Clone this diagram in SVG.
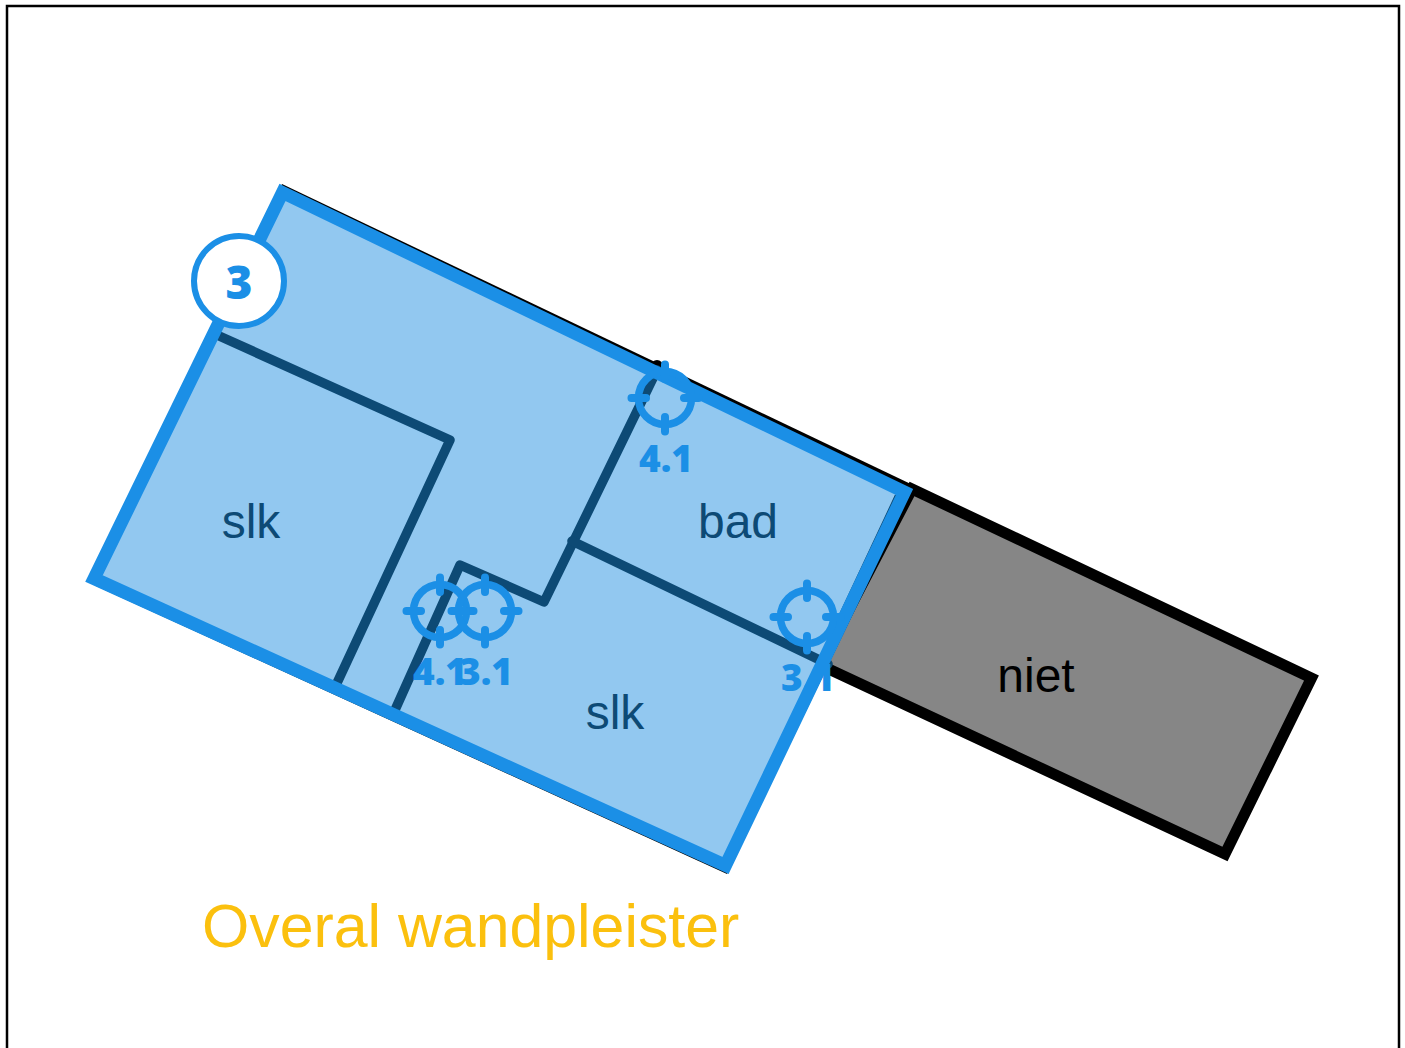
<svg xmlns="http://www.w3.org/2000/svg" width="1405" height="1048" viewBox="0 0 1405 1048">
<style>
.lbl{font-family:"Liberation Sans",Arial,sans-serif;font-size:48px;text-anchor:middle}
.wall{fill:none;stroke:#0d4a75;stroke-width:9.5;stroke-linecap:round;stroke-linejoin:round}
.tag{font-family:"Open Sans",sans-serif;font-weight:800;font-size:37px;fill:#1b8fe6;text-anchor:middle}
.tick{stroke:#1b8fe6;stroke-width:8;stroke-linecap:round}
.ring{fill:none;stroke:#1b8fe6;stroke-width:7.5}
</style>
<defs>
<g id="target">
<circle class="ring" r="26.5"/>
<path class="tick" d="M0-33.5V-19M0 33.5V19M-33.5 0H-19M33.5 0H19"/>
</g>
</defs>
<rect id="frame" x="7" y="6" width="1392" height="1100" fill="#fff" stroke="#000" stroke-width="2.5"/>
<g id="room-niet">
<polygon points="912,489 1311.5,678 1225,854 820,665" fill="#868686" stroke="#000" stroke-width="11" stroke-linejoin="miter"/>
<text class="lbl" x="1036" y="692" fill="#000">niet</text>
</g>
<g id="outline-black">
<polygon points="282,184 915,486 727,874 95,585.5" fill="#000"/>
<circle cx="657" cy="366" r="6" fill="#000"/>
</g>
<g id="zone">
<polygon points="282.5,192.5 904.5,492 725.5,865.5 94,578.5" fill="#92c8f0"/>
</g>
<g id="walls" class="connectors">
<path class="wall" d="M217,335 L450,440 L337,683"/>
<path class="wall" d="M395,710 L460,565 L544,602 L657,370"/>
<path class="wall" d="M572,541 L828,664"/>
<path class="wall" style="stroke-width:3" d="M896,496 L838,620"/>
</g>
<g id="zone-border">
<polygon points="282.5,192.5 904.5,492 725.5,865.5 94,578.5" fill="none" stroke="#1b8fe6" stroke-width="13"/>
</g>
<g id="labels">
<text class="lbl" x="251" y="538" fill="#0d4a75">slk</text>
<text class="lbl" x="738" y="538" fill="#0d4a75">bad</text>
<text class="lbl" x="615" y="729" fill="#0d4a75">slk</text>
</g>
<g id="point-4-1-a"><use href="#target" x="665" y="398"/><text class="tag" x="666" y="472">4.1</text></g>
<g id="point-4-1-b"><use href="#target" x="440" y="611"/><text class="tag" x="440" y="685">4.1</text></g>
<g id="point-3-1-a"><use href="#target" x="485" y="611"/><text class="tag" x="486" y="685">3.1</text></g>
<g id="point-3-1-b"><use href="#target" x="807" y="617"/><text class="tag" x="808" y="691">3.1</text></g>
<g id="badge">
<circle cx="239" cy="281" r="45" fill="#fff" stroke="#1b8fe6" stroke-width="6"/>
<text class="tag" x="239" y="299" style="font-size:46px">3</text>
</g>
<text id="note" x="202" y="947" font-family="Liberation Sans,Arial,sans-serif" font-size="60.8" fill="#fbc00e">Overal wandpleister</text>
</svg>
